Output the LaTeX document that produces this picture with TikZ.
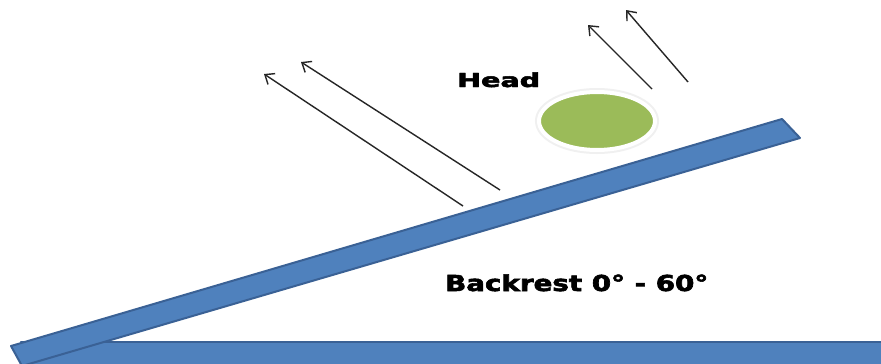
\documentclass[tikz,border=0pt]{standalone}
\usepackage{fontspec}
\setmainfont{DejaVu Sans}[BoldFeatures={FakeBold=2.5}]
\usetikzlibrary{shapes.geometric,arrows.meta}
\definecolor{barblue}{HTML}{4F81BD}
\definecolor{barline}{HTML}{3A6195}
\definecolor{headgreen}{HTML}{9BBB59}
\begin{document}
\begin{tikzpicture}[x=1pt,y=-1pt,
  bar/.style={fill=barblue,draw=barline,line width=2pt,line join=round},
  ray/.style={line width=1.4pt,draw=black!85,-{Straight Barb[length=8pt,width=13pt,line width=1.4pt]}},
  txt/.style={inner sep=0pt,anchor=base west}]
\useasboundingbox (0,0) rectangle (881,364);
\fill[white] (0,0) rectangle (881,364);
\begin{scope}
\clip (0,0) rectangle (881,364);
\draw[bar] (21,342) rectangle (890,372);
\draw[bar] (11,346) -- (782,119) -- (800,138) -- (22,366) -- cycle;
\end{scope}
% head
\node[ellipse,draw=black!6,line width=8pt,minimum width=116pt,minimum height=58pt] (headshadow) at (597,121) {};
\node[ellipse,fill=headgreen,draw=white,line width=4pt,minimum width=116pt,minimum height=58pt] (head) at (597,121) {};
% arrows
\coordinate (t1) at (463,206); \coordinate (h1) at (264,74);
\coordinate (t2) at (500,190); \coordinate (h2) at (301,62);
\coordinate (t3) at (652,89);  \coordinate (h3) at (588,25);
\coordinate (t4) at (688,82);  \coordinate (h4) at (626,10);
\draw[ray] (t1) -- (h1);
\draw[ray] (t2) -- (h2);
\draw[ray] (t3) -- (h3);
\draw[ray] (t4) -- (h4);
% labels
\node[txt] (headlbl) at (457,87) {\resizebox{83pt}{14.6pt}{\bfseries Head}};
\node[txt] (backlbl) at (445,291) {\resizebox{263pt}{16.7pt}{\bfseries Backrest 0° - 60°}};
\end{tikzpicture}
\end{document}
